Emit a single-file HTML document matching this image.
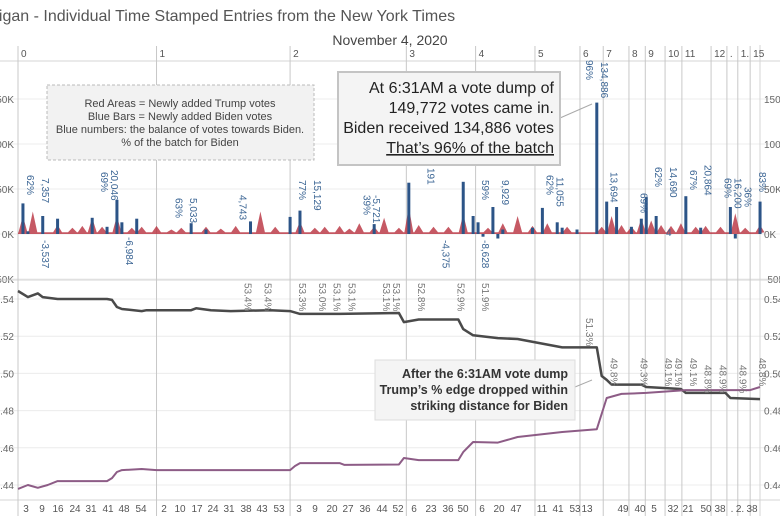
<!DOCTYPE html>
<html><head><meta charset="utf-8"><style>
body{margin:0;background:#fff;}
svg{display:block;font-family:"Liberation Sans",sans-serif;}
</style></head><body>
<svg id="c" width="780" height="516" viewBox="0 0 780 516">
<text x="-10" y="21" font-size="16" fill="#555">higan - Individual Time Stamped Entries from the New York Times</text>
<text x="390" y="45" font-size="14" fill="#444" text-anchor="middle">November 4, 2020</text>
<g id="grid"></g><g id="hours"></g><g id="red"></g><g id="bars"></g><g id="lines"></g><g id="labels"></g>
<rect x="47" y="85" width="267" height="75" fill="#f2f2f2" stroke="#bbb" stroke-dasharray="3,2"/>
<g font-size="11" fill="#444" text-anchor="middle">
<text x="180" y="107">Red Areas = Newly added Trump votes</text>
<text x="180" y="120">Blue Bars = Newly added Biden votes</text>
<text x="180" y="133">Blue numbers: the balance of votes towards Biden.</text>
<text x="180" y="146">% of the batch for Biden</text></g>
<line x1="560" y1="118" x2="592" y2="104" stroke="#aaa"/>
<rect x="338" y="72" width="222" height="93" fill="#f4f4f4" stroke="#c4c4c4" stroke-width="2"/>
<g font-size="16" fill="#222" text-anchor="end">
<text x="554" y="93">At 6:31AM a vote dump of</text>
<text x="554" y="113">149,772 votes came in.</text>
<text x="554" y="133">Biden received 134,886 votes</text>
<text x="554" y="153" text-decoration="underline">That’s 96% of the batch</text></g>
<line x1="575" y1="387" x2="592" y2="380" stroke="#aaa"/>
<rect x="375" y="360" width="200" height="60" fill="#f4f4f4" stroke="#ddd"/>
<g font-size="12.5" font-weight="bold" fill="#333" text-anchor="end">
<text x="568" y="378">After the 6:31AM vote dump</text>
<text x="568" y="394">Trump’s % edge dropped within</text>
<text x="568" y="410">striking distance for Biden</text></g>
</svg>
<script>
const hourLabels=["0","1","2","3","4","5","6","7","8","9","10","11","12",".","1.","15"];
const hourIdx=[0,28,55,78.5,92.5,104.5,113.6,118.3,123.5,126.8,130.8,134.2,140.1,143.3,145.5,148];
const barIdx=[1,2,5,8,15,18,20,21,24,35,38,47,55,57,72,79,90,92,93,94,96,97,98,104,106,109,110,113,117,119,121,124,126,127,129,135,138,144,145,150];
const barVal=[34,3,20,17,18,8,38,13,17,12,5,14,19,26,11,57,58,20,13,-3,30,-5,5,7,29,13,7,5,146,36,30,8,17,41,20,42,7,30,-5,36];
const redIdx=[1,3,8,11,13,15,17,20,23,25,28,31,33,38,41,44,49,52,57,60,62,65,67,69,72,74,77,79,81,84,87,90,95,98,101,104,107,111,118,120,122,124,126,128,130,132,134,137,139,142,145,147,150];
const redVal=[20,25,10,7,9,18,8,20,7,8,9,5,7,8,6,9,25,8,14,7,8,9,6,12,8,18,7,30,10,8,8,22,7,12,20,9,12,8,8,20,10,8,17,15,10,9,12,8,9,8,23,7,10];
const trumpIdx=[0,2,4,5,8,18,19,20,21,25,26,35,36,39,43,51,55,57,65,77,78,81,89,90,92,97,101,110,117,118,119,120,126,127,134,135,143,144,150];
const trumpVal=[0.5443,0.541,0.543,0.541,0.540,0.540,0.5395,0.5357,0.5346,0.5335,0.534,0.534,0.535,0.534,0.5335,0.534,0.5335,0.532,0.532,0.5325,0.5276,0.529,0.529,0.5238,0.5205,0.519,0.5185,0.514,0.514,0.4986,0.4965,0.494,0.494,0.4927,0.4916,0.4895,0.4895,0.4868,0.4862];
const bidenIdx=[0,2,4,6,8,18,19,20,21,25,28,55,56,57,65,66,77,78,81,89,90,92,97,101,110,117,119,122,127,135,148,150];
const bidenVal=[0.4379,0.440,0.4385,0.440,0.4421,0.4421,0.4437,0.447,0.448,0.4486,0.448,0.448,0.4502,0.4518,0.4518,0.4508,0.451,0.4545,0.4534,0.4534,0.4577,0.4631,0.4628,0.4658,0.4685,0.470,0.4868,0.489,0.4895,0.491,0.491,0.4927];
const blueLabels=[["62%",1,175],["7,357",4,178],["-3,537",4,240],["69%",16,172],["20,046",18,170],["-6,984",21,237],["63%",31,198],["5,033",34,198],["4,743",44,195],["77%",56,180],["15,129",59,180],["39%",69,195],["-5,721",71,195],["96%",114,60],["134,886",117,62],["191",82,168],["-4,375",85,240],["59%",93,180],["9,929",97,180],["-8,628",93,240],["62%",106,175],["11,055",108,177],["13,694",119,172],["69%",125,193],["62%",128,167],["14,690",131,167],["67%",135,170],["20,864",138,165],["69%",142,178],["16,200",144,178],["36%",146,187],["83%",149,172]];
const pctLabels=[["53.4%",45,283],["53.4%",49,283],["53.3%",56,283],["53.0%",60,283],["53.1%",63,283],["53.1%",66,283],["53.1%",73,283],["53.1%",75,283],["52.8%",80,283],["52.9%",88,283],["51.9%",93,283],["51.3%",114,318],["49.8%",119,358],["49.3%",125,358],["49.1%",130,358],["49.1%",132,358],["49.1%",135,358],["48.8%",138,365],["48.9%",141,365],["48.9%",145,365],["48.8%",149,358]];
const bottomTicks=[["3",26],["9",42],["16",58],["24",75],["31",91],["41",108],["48",124],["54",141],["2",164],["10",180],["17",197],["24",213],["31",229],["38",246],["43",262],["53",279],["3",299],["9",315],["20",332],["27",348],["36",365],["44",382],["52",398],["6",414],["23",431],["36",448],["50",463],["6",482],["20",499],["47",516],["11",542],["41",558],["53",575],["13",587],["49",623],["40",640],["5",654],["32",673],["21",688],["50",706],["38",720],[".",732],["2.",740],["38",752]];
const topTicks=[150,100,50,0,-50];const topTickL=["150K","100K","50K","0K","-50K"];const topTickR=["150","100","50K","0K","-50K"];
const botTicks=[0.54,0.52,0.50,0.48,0.46,0.44];const botTickL=[".54",".52",".50",".48",".46",".44"];const botTickR=["0.54","0.52","0.50","0.48","0.46","0.44"];
const NS="http://www.w3.org/2000/svg";
const X=i=>18+i*4.947;
const YT=v=>234-v*0.9;
const YB=v=>299+(0.54-v)*1860;
function mk(p,t,a){const e=document.createElementNS(NS,t);for(const k in a)e.setAttribute(k,a[k]);document.getElementById(p).appendChild(e);return e;}
topTicks.forEach((t,i)=>{
 let l=mk('grid','line',{x1:0,x2:780,y1:YT(t),y2:YT(t),stroke:'#ececec'});
 
 
 let a=mk('grid','text',{x:14,y:YT(t)+4,'font-size':10,fill:'#666','text-anchor':'end'});a.textContent=topTickL[i];
 
 
 let b=mk('grid','text',{x:764,y:YT(t)+4,'font-size':10,fill:'#666'});b.textContent=topTickR[i];
 
 
});
botTicks.forEach((t,i)=>{
 let l=mk('grid','line',{x1:0,x2:780,y1:YB(t),y2:YB(t),stroke:'#ececec'});
 
 
 let a=mk('grid','text',{x:14,y:YB(t)+4,'font-size':10,fill:'#666','text-anchor':'end'});a.textContent=botTickL[i];
 
 
 let b=mk('grid','text',{x:764,y:YB(t)+4,'font-size':10,fill:'#666'});b.textContent=botTickR[i];
 
 
});
[61,280,500].forEach(y=>{let l=mk('grid','line',{x1:0,x2:780,y1:y,y2:y,stroke:'#d4d4d4'});
 
 });
let rb=mk('grid','line',{x1:760,x2:760,y1:45,y2:516,stroke:'#d4d4d4'});


hourIdx.forEach((h,i)=>{
 let l=mk('hours','line',{x1:X(h),x2:X(h),y1:46,y2:516,stroke:'#c8c8c8'});
 
 
 let t=mk('hours','text',{x:X(h)+3,y:57,'font-size':10,fill:'#555'});t.textContent=hourLabels[i];
 
 
});
let pts=[[0,1]];
redIdx.forEach((r,i)=>{pts.push([r-0.9,2]);pts.push([r,redVal[i]]);pts.push([r+0.9,2]);});
pts.push([150,1]);
let d='M'+X(0)+','+YT(0)+pts.map(p=>'L'+X(p[0]).toFixed(1)+','+YT(p[1]).toFixed(1)).join('')+'L'+X(150)+','+YT(0)+'Z';
let ra=mk('red','path',{d:d,fill:'#b8303d','fill-opacity':0.8});


barIdx.forEach((b,i)=>{const v=barVal[i];
 let r=mk('bars','rect',{x:X(b)-1.5,width:3,y:Math.min(YT(v),YT(0)),height:Math.abs(YT(v)-YT(0)),fill:'#2c5487'});
 
 
});
function line(ix,vs,col,w,name){let dd=ix.map((k,i)=>(i?'L':'M')+X(k).toFixed(1)+','+YB(vs[i]).toFixed(1)).join('');
 let p=mk('lines','path',{d:dd,fill:'none',stroke:col,'stroke-width':w,'stroke-linejoin':'round'});
 
 }
line(trumpIdx,trumpVal,'#4a4a4a',2.5,'trump-share-line');
line(bidenIdx,bidenVal,'#8d5c86',2,'biden-share-line');
blueLabels.forEach(b=>{const x=X(b[1])+4;
 let t=mk('labels','text',{x:x,y:b[2],'font-size':10,fill:'#3b6594',transform:`rotate(90 ${x} ${b[2]})`});t.textContent=b[0];
 
 });
pctLabels.forEach(b=>{const x=X(b[1])+4;
 let t=mk('labels','text',{x:x,y:b[2],'font-size':10,fill:'#777',transform:`rotate(90 ${x} ${b[2]})`});t.textContent=b[0];
 
 });
bottomTicks.forEach(b=>{let t=mk('labels','text',{x:b[1],y:512,'font-size':10,fill:'#555','text-anchor':'middle'});t.textContent=b[0];
 
 });
let f=mk('labels','text',{x:X(131),y:236,'font-size':10,fill:'#3b6594'});f.textContent='4';


</script>
</body></html>
